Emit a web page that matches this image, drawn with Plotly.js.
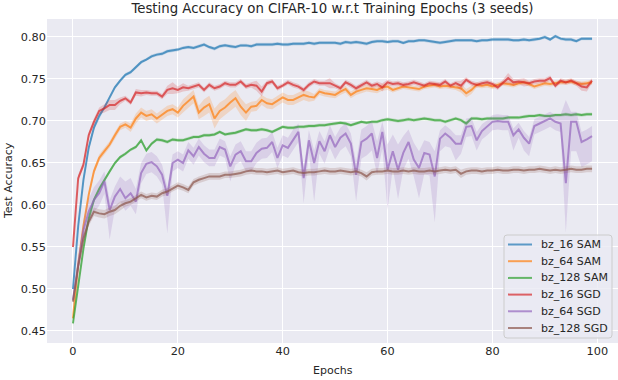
<!DOCTYPE html>
<html>
<head>
<meta charset="utf-8">
<script src="https://cdn.plot.ly/plotly-3.0.1.min.js"></script>
<style>
  html, body { margin: 0; padding: 0; background: #fff; }
  #chart { width: 618px; height: 380px; }
</style>
</head>
<body>
<div id="chart"></div>
<script>
// Test accuracy per epoch (mean over 3 seeds)
const epochs = Array.from({ length: 100 }, (_, i) => i);

const seriesNames = ['bz_16 SAM', 'bz_64 SAM', 'bz_128 SAM', 'bz_16 SGD', 'bz_64 SGD', 'bz_128 SGD'];
const seriesColors = ['31,119,180', '255,127,14', '44,160,44', '214,39,40', '148,103,189', '140,86,75'];

const sam16 = [
  0.500, 0.575, 0.630, 0.668, 0.692, 0.706, 0.716, 0.729, 0.740, 0.748,
  0.755, 0.758, 0.764, 0.770, 0.773, 0.777, 0.779, 0.780, 0.783, 0.784,
  0.785, 0.787, 0.788, 0.787, 0.789, 0.791, 0.788, 0.786, 0.789, 0.790,
  0.789, 0.788, 0.790, 0.790, 0.789, 0.791, 0.791, 0.791, 0.791, 0.792,
  0.791, 0.791, 0.792, 0.792, 0.792, 0.793, 0.792, 0.793, 0.793, 0.793,
  0.793, 0.792, 0.794, 0.793, 0.794, 0.793, 0.792, 0.794, 0.795, 0.795,
  0.794, 0.795, 0.795, 0.793, 0.795, 0.795, 0.796, 0.796, 0.795, 0.794,
  0.793, 0.794, 0.795, 0.796, 0.796, 0.796, 0.796, 0.795, 0.796, 0.796,
  0.797, 0.797, 0.797, 0.797, 0.796, 0.796, 0.797, 0.796, 0.797, 0.798,
  0.800, 0.797, 0.801, 0.798, 0.797, 0.797, 0.795, 0.798, 0.798, 0.798
];
const sam16Sd = [
  0.004, 0.006, 0.005, 0.004, 0.003, 0.003, 0.002, 0.002, 0.002, 0.002,
  0.002, 0.002, 0.002, 0.002, 0.002, 0.002, 0.002, 0.002, 0.002, 0.002,
  0.002, 0.002, 0.002, 0.002, 0.002, 0.002, 0.002, 0.002, 0.002, 0.002,
  0.002, 0.002, 0.002, 0.002, 0.002, 0.002, 0.002, 0.002, 0.002, 0.002,
  0.002, 0.002, 0.002, 0.002, 0.002, 0.002, 0.002, 0.002, 0.002, 0.002,
  0.002, 0.002, 0.002, 0.002, 0.002, 0.002, 0.002, 0.002, 0.002, 0.002,
  0.002, 0.002, 0.002, 0.002, 0.002, 0.002, 0.002, 0.002, 0.002, 0.002,
  0.002, 0.002, 0.002, 0.002, 0.002, 0.002, 0.002, 0.002, 0.002, 0.002,
  0.002, 0.002, 0.002, 0.002, 0.002, 0.002, 0.002, 0.002, 0.002, 0.002,
  0.002, 0.002, 0.002, 0.002, 0.002, 0.002, 0.002, 0.002, 0.002, 0.002
];

const sam64 = [
  0.465, 0.530, 0.575, 0.612, 0.640, 0.656, 0.664, 0.672, 0.683, 0.693,
  0.696, 0.692, 0.703, 0.710, 0.706, 0.708, 0.703, 0.708, 0.712, 0.714,
  0.710, 0.718, 0.724, 0.729, 0.710, 0.716, 0.720, 0.703, 0.712, 0.716,
  0.722, 0.727, 0.717, 0.710, 0.717, 0.718, 0.725, 0.721, 0.720, 0.724,
  0.728, 0.725, 0.725, 0.728, 0.731, 0.729, 0.728, 0.735, 0.733, 0.732,
  0.731, 0.735, 0.738, 0.731, 0.735, 0.737, 0.739, 0.738, 0.737, 0.740,
  0.741, 0.737, 0.739, 0.741, 0.740, 0.739, 0.738, 0.741, 0.742, 0.743,
  0.741, 0.742, 0.741, 0.740, 0.739, 0.733, 0.737, 0.743, 0.742, 0.743,
  0.741, 0.743, 0.745, 0.744, 0.743, 0.745, 0.746, 0.744, 0.741, 0.743,
  0.745, 0.744, 0.745, 0.746, 0.746, 0.747, 0.745, 0.744, 0.745, 0.746
];
const sam64Sd = [
  0.004, 0.004, 0.004, 0.004, 0.004, 0.004, 0.004, 0.004, 0.004, 0.004,
  0.004, 0.005, 0.006, 0.006, 0.006, 0.006, 0.006, 0.006, 0.006, 0.006,
  0.006, 0.008, 0.008, 0.008, 0.008, 0.010, 0.010, 0.012, 0.010, 0.010,
  0.010, 0.010, 0.010, 0.010, 0.006, 0.006, 0.006, 0.006, 0.006, 0.006,
  0.006, 0.006, 0.006, 0.006, 0.006, 0.006, 0.004, 0.004, 0.004, 0.004,
  0.004, 0.004, 0.004, 0.004, 0.004, 0.004, 0.004, 0.004, 0.004, 0.004,
  0.004, 0.003, 0.003, 0.003, 0.003, 0.003, 0.003, 0.003, 0.003, 0.003,
  0.003, 0.003, 0.003, 0.003, 0.005, 0.005, 0.005, 0.003, 0.003, 0.003,
  0.003, 0.003, 0.003, 0.003, 0.003, 0.003, 0.003, 0.003, 0.003, 0.003,
  0.003, 0.003, 0.003, 0.003, 0.003, 0.003, 0.003, 0.003, 0.003, 0.003
];

const sam128 = [
  0.459, 0.503, 0.548, 0.584, 0.606, 0.619, 0.630, 0.640, 0.650, 0.657,
  0.661, 0.666, 0.669, 0.677, 0.665, 0.673, 0.678, 0.677, 0.675, 0.678,
  0.677, 0.677, 0.679, 0.681, 0.681, 0.683, 0.683, 0.684, 0.687, 0.684,
  0.685, 0.686, 0.688, 0.690, 0.689, 0.689, 0.690, 0.689, 0.687, 0.690,
  0.693, 0.692, 0.692, 0.693, 0.693, 0.694, 0.694, 0.695, 0.695, 0.696,
  0.697, 0.698, 0.697, 0.695, 0.697, 0.699, 0.698, 0.699, 0.699, 0.701,
  0.702, 0.701, 0.700, 0.701, 0.702, 0.701, 0.702, 0.703, 0.702, 0.701,
  0.701, 0.699, 0.701, 0.703, 0.701, 0.697, 0.703, 0.703, 0.702, 0.703,
  0.703, 0.703, 0.703, 0.704, 0.704, 0.704, 0.705, 0.706, 0.706, 0.707,
  0.706, 0.706, 0.707, 0.707, 0.708, 0.707, 0.708, 0.707, 0.708, 0.708
];
const sam128Sd = [
  0.004, 0.004, 0.004, 0.004, 0.003, 0.003, 0.002, 0.002, 0.002, 0.002,
  0.002, 0.002, 0.002, 0.002, 0.002, 0.002, 0.002, 0.002, 0.002, 0.002,
  0.002, 0.002, 0.002, 0.002, 0.002, 0.002, 0.002, 0.002, 0.002, 0.002,
  0.002, 0.002, 0.002, 0.002, 0.002, 0.002, 0.002, 0.002, 0.002, 0.002,
  0.002, 0.002, 0.002, 0.002, 0.002, 0.002, 0.002, 0.002, 0.002, 0.002,
  0.002, 0.002, 0.002, 0.002, 0.002, 0.002, 0.002, 0.002, 0.002, 0.002,
  0.002, 0.002, 0.002, 0.002, 0.002, 0.002, 0.002, 0.002, 0.002, 0.002,
  0.002, 0.002, 0.002, 0.002, 0.002, 0.003, 0.002, 0.002, 0.002, 0.002,
  0.002, 0.002, 0.002, 0.002, 0.002, 0.002, 0.002, 0.002, 0.002, 0.002,
  0.002, 0.002, 0.002, 0.002, 0.002, 0.002, 0.002, 0.002, 0.002, 0.002
];

const sgd16 = [
  0.550, 0.632, 0.648, 0.683, 0.699, 0.712, 0.715, 0.719, 0.719, 0.724,
  0.727, 0.722, 0.734, 0.733, 0.734, 0.733, 0.733, 0.729, 0.737, 0.739,
  0.737, 0.740, 0.739, 0.741, 0.743, 0.737, 0.743, 0.739, 0.741, 0.745,
  0.743, 0.743, 0.747, 0.741, 0.743, 0.742, 0.735, 0.745, 0.747, 0.739,
  0.742, 0.746, 0.743, 0.741, 0.737, 0.743, 0.747, 0.745, 0.745, 0.745,
  0.742, 0.739, 0.746, 0.743, 0.739, 0.743, 0.746, 0.742, 0.744, 0.740,
  0.746, 0.744, 0.745, 0.743, 0.744, 0.746, 0.744, 0.742, 0.745, 0.744,
  0.743, 0.747, 0.742, 0.745, 0.742, 0.749, 0.745, 0.743, 0.745, 0.746,
  0.744, 0.740, 0.746, 0.751, 0.746, 0.747, 0.746, 0.745, 0.747, 0.748,
  0.748, 0.751, 0.742, 0.748, 0.746, 0.748, 0.745, 0.741, 0.740, 0.748
];
const sgd16Sd = [
  0.004, 0.004, 0.004, 0.004, 0.004, 0.004, 0.005, 0.006, 0.006, 0.004,
  0.003, 0.003, 0.004, 0.004, 0.003, 0.003, 0.003, 0.003, 0.005, 0.007,
  0.004, 0.005, 0.003, 0.003, 0.003, 0.003, 0.003, 0.003, 0.003, 0.003,
  0.003, 0.003, 0.003, 0.003, 0.003, 0.006, 0.006, 0.003, 0.003, 0.003,
  0.003, 0.003, 0.003, 0.003, 0.003, 0.003, 0.003, 0.003, 0.003, 0.006,
  0.003, 0.003, 0.003, 0.003, 0.003, 0.003, 0.003, 0.003, 0.003, 0.005,
  0.003, 0.003, 0.003, 0.003, 0.003, 0.003, 0.003, 0.003, 0.003, 0.003,
  0.003, 0.003, 0.003, 0.003, 0.006, 0.003, 0.003, 0.003, 0.003, 0.003,
  0.003, 0.003, 0.003, 0.006, 0.004, 0.003, 0.005, 0.003, 0.003, 0.003,
  0.003, 0.003, 0.003, 0.003, 0.003, 0.003, 0.003, 0.005, 0.005, 0.003
];

const sgd64 = [
  0.487, 0.530, 0.570, 0.592, 0.606, 0.614, 0.628, 0.594, 0.610, 0.619,
  0.608, 0.614, 0.604, 0.638, 0.649, 0.651, 0.646, 0.636, 0.611, 0.650,
  0.654, 0.650, 0.665, 0.658, 0.669, 0.661, 0.656, 0.656, 0.669, 0.666,
  0.646, 0.660, 0.664, 0.652, 0.652, 0.662, 0.667, 0.668, 0.675, 0.656,
  0.671, 0.668, 0.678, 0.687, 0.632, 0.677, 0.650, 0.676, 0.664, 0.683,
  0.669, 0.680, 0.685, 0.673, 0.636, 0.675, 0.679, 0.685, 0.656, 0.687,
  0.642, 0.664, 0.642, 0.662, 0.675, 0.654, 0.644, 0.662, 0.660, 0.634,
  0.679, 0.685, 0.680, 0.673, 0.673, 0.693, 0.694, 0.677, 0.688, 0.693,
  0.699, 0.700, 0.699, 0.699, 0.683, 0.690, 0.680, 0.673, 0.694, 0.697,
  0.700, 0.703, 0.699, 0.697, 0.626, 0.699, 0.699, 0.675, 0.678, 0.682
];
const sgd64Down = [
  0.004, 0.008, 0.012, 0.015, 0.015, 0.015, 0.015, 0.035, 0.015, 0.015,
  0.015, 0.015, 0.015, 0.012, 0.012, 0.012, 0.012, 0.012, 0.045, 0.010,
  0.010, 0.010, 0.010, 0.010, 0.010, 0.010, 0.010, 0.010, 0.010, 0.010,
  0.018, 0.012, 0.012, 0.012, 0.012, 0.012, 0.012, 0.012, 0.012, 0.012,
  0.012, 0.012, 0.012, 0.012, 0.030, 0.015, 0.046, 0.015, 0.015, 0.015,
  0.015, 0.015, 0.015, 0.015, 0.032, 0.020, 0.020, 0.020, 0.020, 0.020,
  0.048, 0.020, 0.035, 0.020, 0.020, 0.020, 0.036, 0.025, 0.025, 0.055,
  0.015, 0.015, 0.012, 0.020, 0.012, 0.012, 0.012, 0.012, 0.010, 0.010,
  0.010, 0.010, 0.010, 0.010, 0.018, 0.010, 0.015, 0.015, 0.010, 0.010,
  0.010, 0.010, 0.010, 0.010, 0.059, 0.035, 0.035, 0.030, 0.030, 0.030
];
const sgd64Up = [
  0.004, 0.008, 0.012, 0.015, 0.015, 0.015, 0.012, 0.012, 0.012, 0.015,
  0.020, 0.018, 0.015, 0.012, 0.012, 0.012, 0.012, 0.012, 0.010, 0.010,
  0.010, 0.010, 0.010, 0.010, 0.010, 0.010, 0.010, 0.010, 0.010, 0.010,
  0.012, 0.012, 0.012, 0.012, 0.012, 0.012, 0.012, 0.012, 0.012, 0.012,
  0.012, 0.012, 0.012, 0.010, 0.012, 0.012, 0.015, 0.012, 0.012, 0.012,
  0.012, 0.012, 0.012, 0.012, 0.015, 0.015, 0.015, 0.015, 0.020, 0.012,
  0.030, 0.020, 0.030, 0.020, 0.015, 0.020, 0.020, 0.015, 0.015, 0.030,
  0.010, 0.010, 0.010, 0.010, 0.010, 0.010, 0.010, 0.010, 0.008, 0.008,
  0.008, 0.008, 0.008, 0.008, 0.008, 0.008, 0.008, 0.008, 0.008, 0.008,
  0.008, 0.008, 0.008, 0.010, 0.099, 0.012, 0.012, 0.012, 0.012, 0.012
];

const sgd128 = [
  0.485, 0.527, 0.560, 0.580, 0.592, 0.590, 0.589, 0.592, 0.594, 0.599,
  0.602, 0.604, 0.608, 0.612, 0.609, 0.611, 0.610, 0.614, 0.616, 0.620,
  0.623, 0.621, 0.618, 0.627, 0.630, 0.632, 0.634, 0.634, 0.634, 0.636,
  0.636, 0.637, 0.638, 0.640, 0.641, 0.640, 0.640, 0.639, 0.640, 0.641,
  0.639, 0.640, 0.641, 0.639, 0.638, 0.639, 0.639, 0.640, 0.641, 0.640,
  0.640, 0.641, 0.640, 0.639, 0.640, 0.638, 0.634, 0.639, 0.640, 0.640,
  0.641, 0.640, 0.640, 0.641, 0.640, 0.641, 0.640, 0.640, 0.641, 0.640,
  0.641, 0.642, 0.641, 0.642, 0.637, 0.640, 0.641, 0.641, 0.640, 0.641,
  0.641, 0.642, 0.641, 0.641, 0.642, 0.642, 0.641, 0.642, 0.642, 0.643,
  0.642, 0.641, 0.642, 0.641, 0.642, 0.643, 0.642, 0.642, 0.643, 0.643
];
const sgd128Sd = [
  0.005, 0.005, 0.005, 0.005, 0.005, 0.005, 0.005, 0.005, 0.005, 0.005,
  0.004, 0.004, 0.004, 0.004, 0.004, 0.004, 0.004, 0.004, 0.004, 0.004,
  0.004, 0.004, 0.004, 0.004, 0.004, 0.004, 0.004, 0.004, 0.004, 0.004,
  0.004, 0.004, 0.004, 0.004, 0.004, 0.004, 0.004, 0.004, 0.004, 0.004,
  0.004, 0.004, 0.004, 0.004, 0.004, 0.004, 0.004, 0.004, 0.004, 0.004,
  0.004, 0.004, 0.004, 0.004, 0.004, 0.004, 0.005, 0.004, 0.004, 0.004,
  0.004, 0.004, 0.004, 0.004, 0.004, 0.004, 0.004, 0.004, 0.004, 0.004,
  0.004, 0.004, 0.004, 0.004, 0.005, 0.004, 0.004, 0.004, 0.004, 0.004,
  0.004, 0.004, 0.004, 0.004, 0.004, 0.004, 0.004, 0.004, 0.004, 0.004,
  0.004, 0.004, 0.004, 0.004, 0.004, 0.004, 0.004, 0.004, 0.004, 0.004
];

const yTicks = [0.45, 0.50, 0.55, 0.60, 0.65, 0.70, 0.75, 0.80];
const xTicks = [0, 20, 40, 60, 80, 100];

const series = [
  { mean: sam16,  down: sam16Sd,   up: sam16Sd },
  { mean: sam64,  down: sam64Sd,   up: sam64Sd },
  { mean: sam128, down: sam128Sd,  up: sam128Sd },
  { mean: sgd16,  down: sgd16Sd,   up: sgd16Sd },
  { mean: sgd64,  down: sgd64Down, up: sgd64Up },
  { mean: sgd128, down: sgd128Sd,  up: sgd128Sd }
];

const TEXT = '#262626';
const FONT = 'DejaVu Sans, sans-serif';

// plot area in pixels (matplotlib-like box)
const W = 618, H = 380;
const M = { l: 47, r: 0, t: 19, b: 37 };
const pw = W - M.l - M.r, ph = H - M.t - M.b;
const px = x => (x - M.l) / pw;          // pixel -> paper x
const py = y => (H - M.b - y) / ph;      // pixel -> paper y

const traces = [];
series.forEach((s, k) => {
  const rgb = seriesColors[k];
  const lo = s.mean.map((v, i) => v - s.down[i]);
  const hi = s.mean.map((v, i) => v + s.up[i]);
  // confidence band (seaborn-style shading)
  traces.push({
    x: [...epochs, ...epochs.slice().reverse()],
    y: [...hi, ...lo.slice().reverse()],
    type: 'scatter', mode: 'lines', fill: 'toself',
    fillcolor: `rgba(${rgb},0.2)`, line: { width: 0 },
    hoverinfo: 'skip', showlegend: false
  });
  traces.push({
    x: epochs, y: s.mean, type: 'scatter', mode: 'lines',
    name: seriesNames[k], showlegend: false,
    line: { color: `rgba(${rgb},0.7)`, width: 2 }
  });
});

// legend frame with rounded corners, like matplotlib's fancybox
function roundedBox(l, t, r, b, rad) {
  const x0 = px(l), x1 = px(r), y0 = py(b), y1 = py(t);
  const rx = rad / pw, ry = rad / ph;
  return `M ${x0 + rx},${y1} L ${x1 - rx},${y1} Q ${x1},${y1} ${x1},${y1 - ry} ` +
         `L ${x1},${y0 + ry} Q ${x1},${y0} ${x1 - rx},${y0} L ${x0 + rx},${y0} ` +
         `Q ${x0},${y0} ${x0},${y0 + ry} L ${x0},${y1 - ry} Q ${x0},${y1} ${x0 + rx},${y1} Z`;
}

// hand-built legend (matplotlib spacing is tighter than plotly's)
const shapes = [{
  type: 'path', xref: 'paper', yref: 'paper',
  path: roundedBox(504, 235, 612, 338, 3),
  fillcolor: 'rgba(234,234,242,0.8)', line: { color: '#cccccc', width: 1 }
}];
const annotations = [
  { text: 'Epochs', xref: 'paper', yref: 'paper', x: 0.5, y: py(370), xanchor: 'center', yanchor: 'middle',
    showarrow: false, font: { size: 11, color: TEXT } },
  { text: 'Test Accuracy', xref: 'paper', yref: 'paper', x: px(8), y: 0.5, xanchor: 'center', yanchor: 'middle',
    textangle: -90, showarrow: false, font: { size: 11, color: TEXT } }
];
seriesNames.forEach((name, k) => {
  const yy = 244.5 + k * 16.7;
  shapes.push({
    type: 'line', xref: 'paper', yref: 'paper',
    x0: px(508), x1: px(532), y0: py(yy), y1: py(yy),
    line: { color: `rgba(${seriesColors[k]},0.7)`, width: 2 }
  });
  annotations.push({
    text: name, xref: 'paper', yref: 'paper', x: px(539), y: py(yy),
    xanchor: 'left', yanchor: 'middle', showarrow: false,
    font: { size: 11, color: TEXT }
  });
});

const layout = {
  width: W, height: H,
  margin: M,
  paper_bgcolor: '#ffffff',
  plot_bgcolor: '#eaeaf2',
  font: { family: FONT, color: TEXT, size: 11 },
  title: {
    text: 'Testing Accuracy on CIFAR-10 w.r.t Training Epochs (3 seeds)',
    font: { size: 13.3, color: TEXT }, x: 0.538, xanchor: 'center', y: 0.978, yanchor: 'middle'
  },
  xaxis: {
    range: [-4.95, 103.95], tickvals: xTicks, ticks: '',
    showgrid: true, gridcolor: '#ffffff', gridwidth: 1, zeroline: false, showline: false,
    tickfont: { size: 11.3, color: TEXT }
  },
  yaxis: {
    range: [0.4357, 0.8214], tickvals: yTicks, tickformat: '.2f', ticks: '',
    showgrid: true, gridcolor: '#ffffff', gridwidth: 1, zeroline: false, showline: false,
    tickfont: { size: 11.3, color: TEXT }
  },
  shapes: shapes,
  annotations: annotations,
  showlegend: false
};

Plotly.newPlot('chart', traces, layout, { displayModeBar: false, staticPlot: true });
</script>
</body>
</html>
